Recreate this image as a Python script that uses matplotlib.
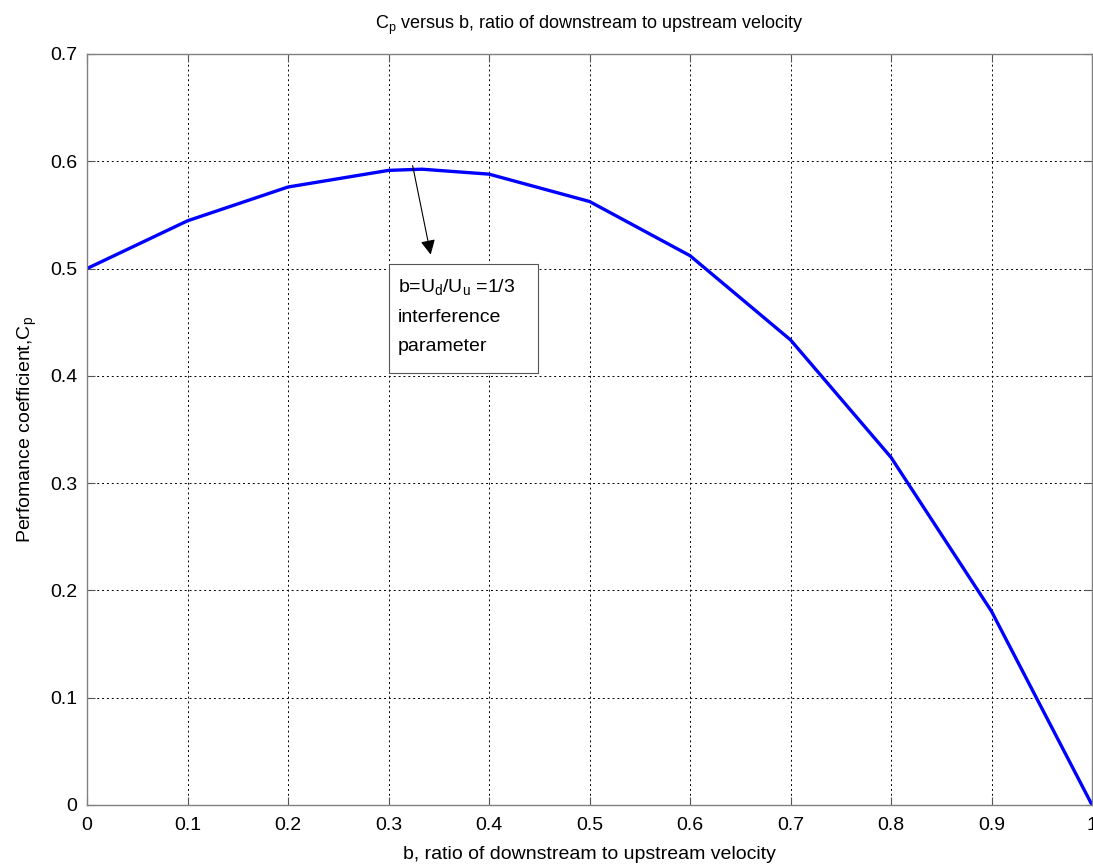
import matplotlib
matplotlib.use("Agg")
import matplotlib.pyplot as plt
from matplotlib.patches import Rectangle

plt.rcParams["font.family"] = ["Liberation Sans", "DejaVu Sans"]

# b = Ud/Uu and performance coefficient
b_vals = [0.0, 0.1, 0.2, 0.3, 1 / 3, 0.4, 0.5, 0.6, 0.7, 0.8, 0.9, 1.0]
cp_vals = [0.5, 0.5445, 0.576, 0.5915, 0.5926, 0.588, 0.5625, 0.512,
           0.4335, 0.324, 0.1805, 0.0]

x_ticks = [0, 0.1, 0.2, 0.3, 0.4, 0.5, 0.6, 0.7, 0.8, 0.9, 1]
x_labels = ["0", "0.1", "0.2", "0.3", "0.4", "0.5", "0.6", "0.7", "0.8", "0.9", "1"]
y_ticks = [0, 0.1, 0.2, 0.3, 0.4, 0.5, 0.6, 0.7]
y_labels = ["0", "0.1", "0.2", "0.3", "0.4", "0.5", "0.6", "0.7"]

fig = plt.figure(figsize=(10.93, 8.65), dpi=100)
ax = fig.add_axes([0.0796, 0.0694, 0.9195, 0.8682])

ax.plot(b_vals, cp_vals, color="#0000ff", linewidth=2.4)

ax.set_xlim(0, 1)
ax.set_ylim(0, 0.7)
ax.set_xticks(x_ticks)
ax.set_xticklabels(x_labels)
ax.set_yticks(y_ticks)
ax.set_yticklabels(y_labels)
ax.tick_params(direction="in", length=6, width=0.8, top=True, right=True,
               labelsize=14, colors="#555555", labelcolor="black")
ax.tick_params(axis="x", pad=9)
ax.tick_params(axis="y", pad=7)
for s in ax.spines.values():
    s.set_color("#808080")
    s.set_linewidth(1.0)

ax.grid(True, color="black", linestyle=(0, (2, 3)), linewidth=0.7)

ax.set_title("$\\mathregular{C_p}$ versus b, ratio of downstream to upstream velocity",
             fontsize=13, pad=18)
ax.set_xlabel("b, ratio of downstream to upstream velocity", fontsize=14, labelpad=8)
ax.set_ylabel("Perfomance coefficient,$\\mathregular{C_p}$", fontsize=14, labelpad=8)

ax.annotate("", xy=(0.342, 0.513), xytext=(0.324, 0.596),
            arrowprops=dict(arrowstyle="-|>", color="black", lw=0.8,
                            mutation_scale=22, shrinkA=0, shrinkB=0))
ax.add_patch(Rectangle((0.300, 0.403), 0.149, 0.101, facecolor="white",
                       edgecolor="#555555", linewidth=0.8, zorder=3))
ax.text(0.309, 0.4925,
        "b=$\\mathregular{U_d/U_u}$ =1/3\ninterference\nparameter",
        fontsize=14, va="top", ha="left", linespacing=1.95, zorder=4)

fig.savefig("out.png", dpi=100)
